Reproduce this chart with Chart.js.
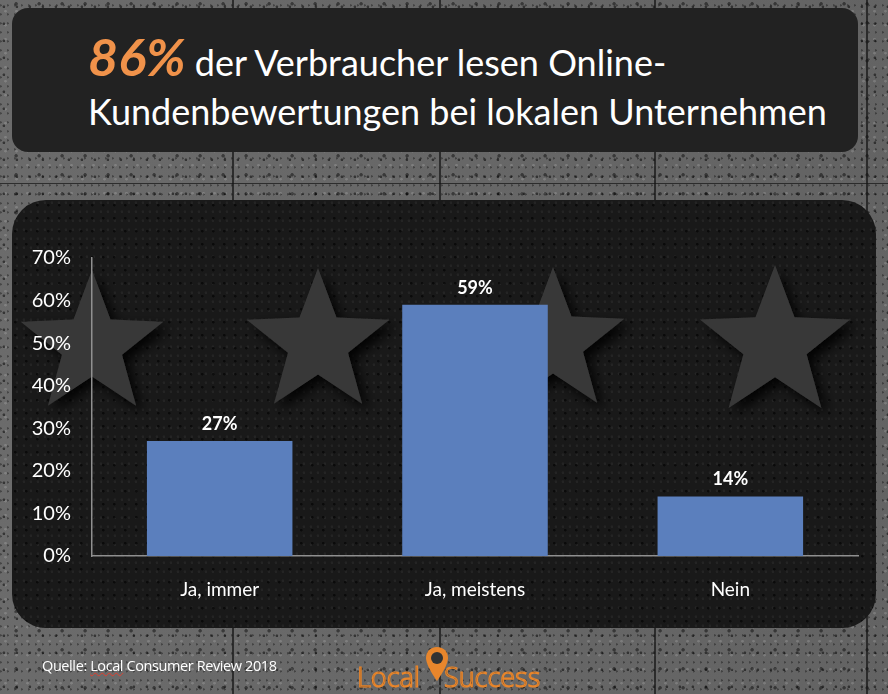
<!DOCTYPE html>
<html>
<head>
<meta charset="utf-8">
<script src="https://cdn.jsdelivr.net/npm/chart.js@4.4.1/dist/chart.umd.min.js"></script>
<style>
  html,body{margin:0;padding:0;}
  body{width:888px;height:694px;position:relative;overflow:hidden;font-family:Lato,"Open Sans",sans-serif;
    background-color:#686868;
    background-image:
      radial-gradient(circle at 30% 40%, rgba(0,0,0,0.5) 0 1px, transparent 1.7px),
      radial-gradient(circle at 70% 20%, rgba(0,0,0,0.45) 0 1.3px, transparent 2.1px),
      radial-gradient(circle at 50% 80%, rgba(255,255,255,0.15) 0 1px, transparent 1.6px),
      radial-gradient(circle at 10% 60%, rgba(0,0,0,0.35) 0 0.8px, transparent 1.4px),
      linear-gradient(90deg, rgba(120,120,120,0.2), rgba(80,80,80,0.2));
    background-size: 13px 17px, 23px 19px, 11px 14px, 7px 9px, 100% 100%;
  }
  .joint{position:absolute;background:rgba(20,20,20,0.7);}
  #title{position:absolute;left:12px;top:8px;width:846px;height:144px;border-radius:16px;background:#222222;}
  #title .l{position:absolute;left:76px;color:#fff;font-size:36px;white-space:nowrap;letter-spacing:0px;}
  #title .big{color:#f0924a;font-weight:bold;font-style:italic;font-size:52px;letter-spacing:0px;}
  #panel{position:absolute;left:12px;top:200px;width:864px;height:428px;border-radius:34px;background:#191919;overflow:hidden;
    background-image:
      radial-gradient(circle at 30% 40%, rgba(0,0,0,0.6) 0 1px, transparent 1.6px),
      radial-gradient(circle at 70% 30%, rgba(80,80,80,0.2) 0 1px, transparent 1.6px);
    background-size: 11px 13px, 7px 9px;}
  #stars{position:absolute;left:0;top:0;}
  #c{position:absolute;left:0;top:0;}
  #src{position:absolute;left:42px;top:656px;color:#fff;font-size:14.5px;font-family:"Open Sans",sans-serif;letter-spacing:-0.4px;}
  #src u{text-decoration:underline wavy #e04030;text-decoration-thickness:1px;}
  #logo{position:absolute;left:357px;top:660px;height:34px;font-size:27px;line-height:34px;color:#2a2a2a;-webkit-text-stroke:1.2px #e8862c;font-family:"Open Sans",sans-serif;font-weight:300;white-space:nowrap;}
  #logo .gap{display:inline-block;width:24px;}
  #pin{position:absolute;left:67px;top:-15px;}
</style>
</head>
<body>
<div class="joint" style="left:232px;top:0;width:2px;height:694px"></div>
<div class="joint" style="left:439px;top:0;width:2px;height:694px"></div>
<div class="joint" style="left:654px;top:0;width:2px;height:694px"></div>
<div class="joint" style="left:866px;top:0;width:2px;height:694px"></div>
<div class="joint" style="left:0;top:183px;width:888px;height:1px"></div>
<div id="title">
  <div class="l" style="top:17px"><span class="big">86%</span> der Verbraucher lesen Online-</div>
  <div class="l" style="top:81px">Kundenbewertungen bei lokalen Unternehmen</div>
</div>
<div id="panel"><svg id="stars" width="864" height="428"></svg></div>
<canvas id="c" width="888" height="694"></canvas>
<div id="src">Quelle: <u>Local</u> Consumer Review 2018</div>
<div id="logo">Local<span class="gap"></span>Success<svg id="pin" width="26" height="46" viewBox="0 0 26 46"><path d="M13 2 C6 2 2 7 2 13 C2 21 13 36 13 36 C13 36 24 21 24 13 C24 7 20 2 13 2 Z" fill="#e8862c"/><circle cx="13" cy="13" r="6" fill="#333"/><ellipse cx="13" cy="41" rx="4" ry="1.5" fill="#555"/></svg></div>
<script>
// ---- data ----
const categories = ["Ja, immer", "Ja, meistens", "Nein"];
const values = [27, 59, 14];
const yTicks = [0, 10, 20, 30, 40, 50, 60, 70];

// ---- decorative background stars (not data) ----
(function(){
  const svg = document.getElementById('stars');
  const stars = [[80,145,75],[306,143,75],[541,142,75],[763,144,79]];
  let html = '<defs><filter id="sh" x="-30%" y="-30%" width="160%" height="160%"><feDropShadow dx="6" dy="6" stdDeviation="6" flood-color="#000" flood-opacity="0.9"/></filter></defs>';
  stars.forEach(([cx,cy,R])=>{
    const r = R*0.42; let pts=[];
    for(let i=0;i<10;i++){const a=-Math.PI/2+i*Math.PI/5;const rr=i%2?r:R;pts.push((cx+rr*Math.cos(a)).toFixed(1)+','+(cy+rr*Math.sin(a)).toFixed(1));}
    html += '<polygon points="'+pts.join(' ')+'" fill="#383838" filter="url(#sh)"/>';
  });
  svg.innerHTML = html;
})();

const labelPlugin = {
  id:'valueLabels',
  afterDatasetsDraw(chart){
    const ctx = chart.ctx;
    const meta = chart.getDatasetMeta(0);
    ctx.save();
    ctx.fillStyle = '#ffffff';
    ctx.font = 'bold 18px Lato, "Open Sans", sans-serif';
    ctx.textAlign = 'center';
    ctx.textBaseline = 'bottom';
    meta.data.forEach((el,i)=>{
      ctx.fillText(values[i] + '%', el.x, el.y - 8);
    });
    ctx.restore();
  }
};

new Chart(document.getElementById('c'), {
  type:'bar',
  data:{labels:categories, datasets:[{data:values, backgroundColor:'#5b7fbd', barPercentage:0.57, categoryPercentage:1}]},
  options:{
    responsive:false, animation:false,
    layout:{padding:{left:0,right:30,top:258,bottom:88}},
    plugins:{legend:{display:false}, tooltip:{enabled:false}},
    scales:{
      x:{
        grid:{display:false, drawTicks:false},
        border:{display:true,color:'#909090',width:1.5},
        ticks:{color:'#ffffff',font:{family:'Lato, "Open Sans", sans-serif',size:19},padding:22},
        afterFit(s){s.height=50;}
      },
      y:{
        min:0,max:70,
        afterBuildTicks(s){s.ticks = yTicks.map(v=>({value:v}));},
        grid:{display:false, drawTicks:false},
        border:{display:true,color:'#909090',width:1.5},
        ticks:{color:'#ffffff',font:{family:'Lato, "Open Sans", sans-serif',size:20},padding:21,callback:v=>v+'%'},
        afterFit(s){s.width=92;}
      }
    }
  },
  plugins:[labelPlugin]
});
</script>
</body>
</html>
